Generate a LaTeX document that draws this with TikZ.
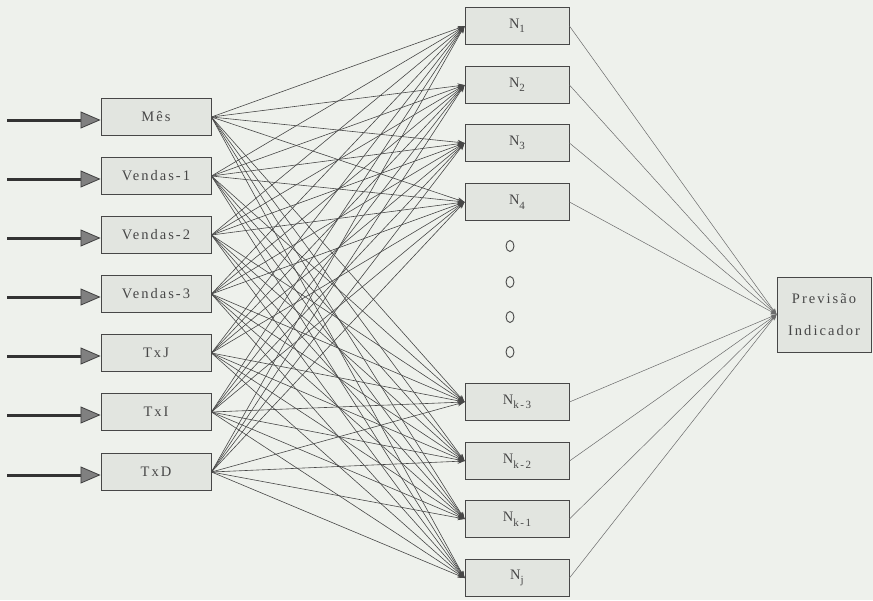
\documentclass[tikz,border=0pt]{standalone}
\usepackage{fontspec}
\setmainfont{Liberation Serif}[LetterSpace=14]
\usetikzlibrary{arrows.meta,shapes.geometric}
\definecolor{paper}{HTML}{EEF1EC}
\definecolor{boxfill}{HTML}{E2E5E0}
\definecolor{ink}{HTML}{474747}
\newcommand{\sbs}[1]{\raisebox{-4.5pt}{\fontsize{11}{12}\selectfont #1}}
\begin{document}
\begin{tikzpicture}[x=1pt,y=-1pt,
  unit/.style={draw=ink, line width=0.9pt, fill=boxfill, minimum width=110pt,
    minimum height=37pt, inner sep=0pt, font=\fontsize{14.5}{17}\selectfont, text=ink},
  hid/.style={unit, minimum width=104pt},
  outbox/.style={unit, minimum width=94pt, minimum height=75pt, align=center},
  link/.style={draw=black!72, line width=0.6pt, -{Stealth[length=7pt,width=5pt]}},
  outlink/.style={draw=black!58, line width=0.5pt, -{Stealth[length=6pt,width=4.5pt]}},
  shaft/.style={draw=black!80, line width=3pt},
  inhead/.style={draw=black!75, line width=0.8pt, -{Triangle[length=20pt,width=17pt,fill=black!50]}},
  ell/.style={draw=ink, line width=0.9pt, ellipse, minimum width=8pt, minimum height=11pt, inner sep=0pt}
]
% paper
\fill[paper] (0,0) rectangle (873,600);
\useasboundingbox (0,0) rectangle (873,600);

% input units
\node[unit] (i1) at (156,117) {Mês};
\node[unit] (i2) at (156,176) {Vendas-1};
\node[unit] (i3) at (156,235) {Vendas-2};
\node[unit] (i4) at (156,294) {Vendas-3};
\node[unit] (i5) at (156,353) {TxJ};
\node[unit] (i6) at (156,412) {TxI};
\node[unit] (i7) at (156,472) {TxD};

% hidden units
\node[hid] (h1) at (517,26)  {N\sbs{1}};
\node[hid] (h2) at (517,85)  {N\sbs{2}};
\node[hid] (h3) at (517,143) {N\sbs{3}};
\node[hid] (h4) at (517,202) {N\sbs{4}};
\node[hid] (h5) at (517,402) {N\sbs{k-3}};
\node[hid] (h6) at (517,461) {N\sbs{k-2}};
\node[hid] (h7) at (517,519) {N\sbs{k-1}};
\node[hid] (h8) at (517,578) {N\sbs{j}};

% ellipsis marks between hidden units
\node[ell] (e1) at (510,246) {};
\node[ell] (e2) at (510,282) {};
\node[ell] (e3) at (510,317) {};
\node[ell] (e4) at (510,352) {};

% output unit
\node[outbox] (o) at (824,314.5) {Previsão\\[15pt]Indicador};

% external inputs
\foreach \i/\yy in {1/120,2/179,3/238,4/297,5/356,6/415,7/475}{
  \coordinate (s\i) at (7,\yy);
  \draw[shaft] (s\i) -- ([shift={(-18,3)}]i\i.west);
  \draw[inhead] ([shift={(-21,3)}]i\i.west) -- ([shift={(0,3)}]i\i.west);
}

% full connection input -> hidden
\foreach \i in {1,...,7}{
  \foreach \j in {1,...,8}{
    \draw[link] (i\i.east) -- (h\j.west);
  }
}

% hidden -> output
\foreach \j in {1,...,8}{
  \draw[outlink] (h\j.east) -- (o.west);
}
\end{tikzpicture}
\end{document}
